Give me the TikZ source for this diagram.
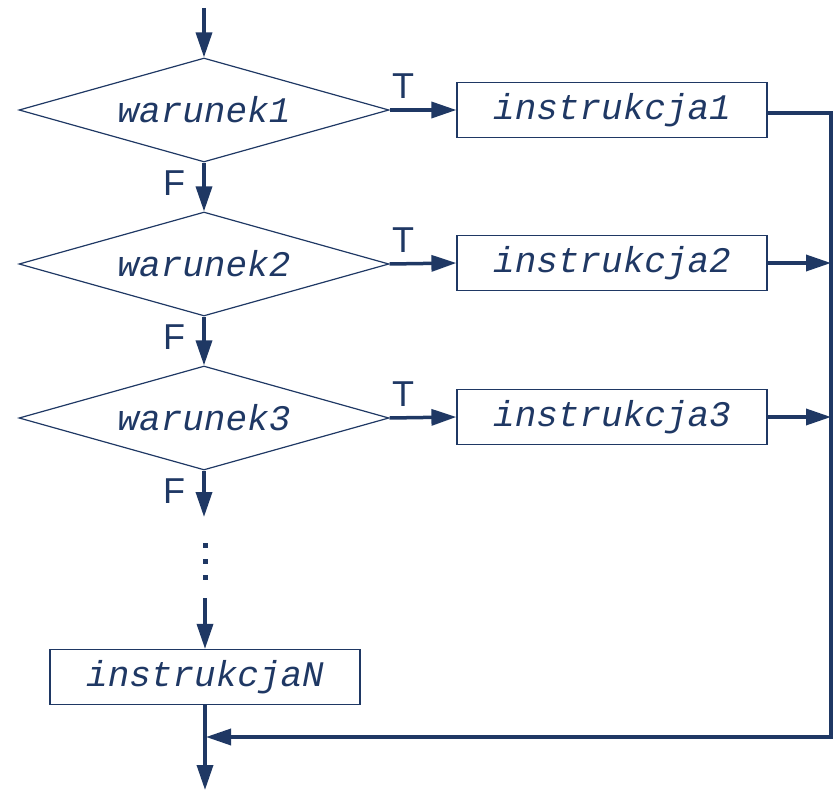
\documentclass[tikz,border=0pt]{standalone}
\usepackage{fontspec}
\setmainfont{Liberation Sans}
\newfontfamily\codefont{Liberation Mono}
\usetikzlibrary{shapes.geometric,arrows.meta}
\definecolor{navy}{RGB}{31,56,100}
\tikzset{
  cond/.style={diamond, draw=navy, line width=1.2pt, aspect=3.56,
    minimum width=370pt, minimum height=104pt, inner sep=0pt,
    text=navy, font=\codefont\itshape\fontsize{36}{40}\selectfont},
  instr/.style={rectangle, draw=navy, line width=1.2pt,
    minimum width=310pt, minimum height=55pt, inner sep=0pt,
    text=navy, font=\codefont\itshape\fontsize{36}{40}\selectfont},
  flow/.style={draw=navy, line width=3.5pt,
    -{Triangle[length=25pt,width=16pt]}},
  plain/.style={draw=navy, line width=3.5pt},
  lbl/.style={text=navy, font=\fontsize{36}{40}\selectfont, inner sep=0pt}
}
\begin{document}
\begin{tikzpicture}[x=1pt,y=-1pt]
\useasboundingbox (0,0) rectangle (836,792);

% decisions
\node[cond] (w1) at (204,110) {warunek1};
\node[cond] (w2) at (204,264) {warunek2};
\node[cond] (w3) at (204,418) {warunek3};

% instructions
\node[instr] (i1) at (612,110) {instrukcja1};
\node[instr] (i2) at (612,263) {instrukcja2};
\node[instr] (i3) at (612,417) {instrukcja3};
\node[instr] (iN) at (205,677) {instrukcjaN};

% helper points
\coordinate (start) at (204,8);
\coordinate (f3end) at (204,517);
\coordinate (dotsend) at (205,598);
\coordinate (finish) at (205,790);
\coordinate (r1) at (831,113);
\coordinate (r2) at (831,263);
\coordinate (r3) at (831,417);
\coordinate (rb) at (831,737);
\coordinate (join) at (206,737);

% entry and false branches
\draw[flow] (start) -- (w1.north);
\draw[flow] (w1.south) -- (w2.north);
\draw[flow] (w2.south) -- (w3.north);
\draw[flow] (w3.south) -- (f3end);

% ellipsis
\foreach \yy in {545,561,577}
  \fill[navy] (202.5,\yy-2.5) rectangle (207.5,\yy+2.5);

\draw[flow] (dotsend) -- (iN.north);
\draw[flow] (iN.south) -- (finish);

% true branches
\draw[flow] (w1.east) -- (i1.west);
\draw[flow] (w2.east) -- (i2.west);
\draw[flow] (w3.east) -- (i3.west);

% collecting line on the right
\draw[plain, line join=miter] (i1.east |- r1) -- (r1) -- (rb) -- ++(-1.75,0);
\draw[flow] (i2.east) -- (r2);
\draw[flow] (i3.east) -- (r3);
\draw[flow] (rb) -- (join);

% branch labels
\node[lbl] at (403,86) {T};
\node[lbl] at (403,240) {T};
\node[lbl] at (403,394) {T};
\node[lbl] at (174,183) {F};
\node[lbl] at (174,337) {F};
\node[lbl] at (174,491) {F};
\end{tikzpicture}
\end{document}
